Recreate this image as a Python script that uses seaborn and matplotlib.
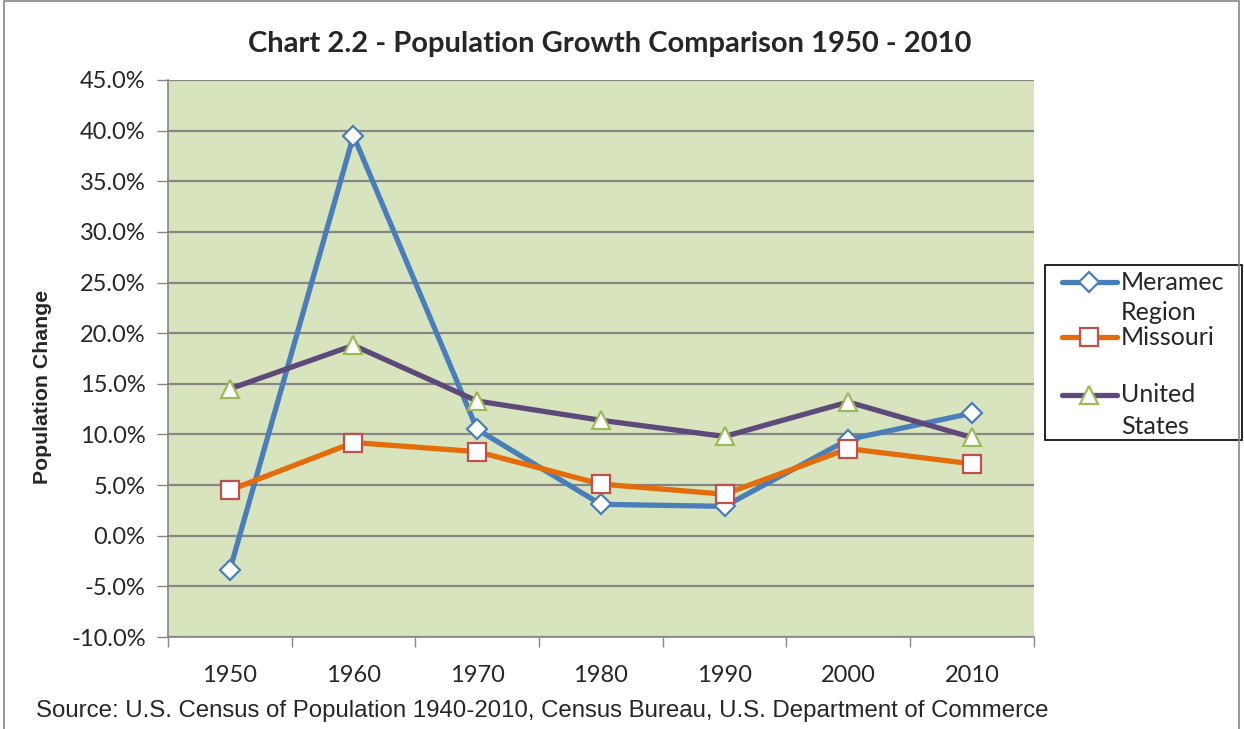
import matplotlib
matplotlib.use("Agg")
import matplotlib.pyplot as plt
import seaborn as sns
import numpy as np
import pandas as pd
from matplotlib.lines import Line2D
from matplotlib.patches import Rectangle
from matplotlib.ticker import PercentFormatter

sns.set_theme(style="white")
plt.rcParams['font.family'] = ['Lato', 'DejaVu Sans']
plt.rcParams['axes.unicode_minus'] = False

# Data (percent change per decade)
years = ["1950", "1960", "1970", "1980", "1990", "2000", "2010"]
meramec = [-3.4, 39.5, 10.5, 3.1, 2.9, 9.5, 12.1]
missouri = [4.5, 9.2, 8.3, 5.1, 4.1, 8.6, 7.1]
united_states = [14.5, 18.8, 13.3, 11.4, 9.8, 13.2, 9.7]

series_names = ["Meramec\nRegion", "Missouri", "United\nStates"]
series_values = [meramec, missouri, united_states]
line_colors = ["#4A7EBB", "#E46C0A", "#5F497A"]
edge_colors = ["#4A7EBB", "#C0504D", "#9BBB59"]
marker_shapes = ["D", "s", "^"]
marker_sizes = [10, 13, 13]

W, H = 1244, 729
fig = plt.figure(figsize=(W / 100, H / 100), dpi=100)
ax = fig.add_axes([0.135, 0.1262, 0.696, 0.7641])
ax.set_facecolor("#D7E4BD")

xpos = np.arange(len(years))
for name, vals, lc, ec, mk, ms in zip(series_names, series_values, line_colors,
                                       edge_colors, marker_shapes, marker_sizes):
    df = pd.DataFrame({"x": xpos, "y": vals})
    sns.lineplot(data=df, x="x", y="y", ax=ax, color=lc, linewidth=3.8,
                 marker=mk, markersize=ms, markerfacecolor="white",
                 markeredgecolor=ec, markeredgewidth=1.6, zorder=3)

ax.set_xlim(-0.5, len(years) - 0.5)
ax.set_ylim(-10, 45)
ax.set_yticks(np.arange(-10, 46, 5))
ax.yaxis.set_major_formatter(PercentFormatter(decimals=1))
ax.set_xticks(xpos)
ax.set_xticklabels(years)
ax.set_xticks(np.arange(-0.5, len(years), 1), minor=True)
ax.tick_params(axis="x", which="major", length=0, pad=20, labelsize=17)
ax.tick_params(axis="x", which="minor", length=7, width=1, color="#868686",
               direction="out", bottom=True)
ax.tick_params(axis="y", length=8, width=1, color="#868686", direction="out",
               left=True, pad=8, labelsize=17)
ax.grid(axis="y", color="#868686", linewidth=1.6)
ax.grid(axis="x", visible=False)
ax.set_axisbelow(True)
for side in ["top", "right"]:
    ax.spines[side].set_visible(False)
for side in ["left", "bottom"]:
    ax.spines[side].set_color("#868686")
    ax.spines[side].set_linewidth(1.2)
ax.set_xlabel("")
ax.set_ylabel("")

fig.text(0.49, 1 - 44 / H, "Chart 2.2 - Population Growth Comparison 1950 - 2010",
         ha="center", va="center", fontsize=21, fontweight="bold")
fig.text(43 / W, 1 - 387 / H, "Population Change", rotation=90, ha="center",
         va="center", fontsize=15.3, fontweight="bold",
         family=["Liberation Sans", "DejaVu Sans"])
fig.text(36 / W, 1 - 711 / H,
         "Source: U.S. Census of Population 1940-2010, Census Bureau, U.S. Department of Commerce",
         ha="left", va="center", fontsize=17.3, family=["Liberation Sans", "DejaVu Sans"])

# legend drawn by hand to follow the original's odd line layout
fig.patches.append(Rectangle((1045 / W, 1 - 440 / H), 197 / W, 175 / H,
                             transform=fig.transFigure, fill=False,
                             edgecolor="black", linewidth=1.2))
handle_y = [282, 337, 395]
label_lines = [["Meramec", "Region"], ["Missouri"], ["United", "States"]]
for hy, lines, lc, ec, mk, ms in zip(handle_y, label_lines, line_colors,
                                     edge_colors, marker_shapes, marker_sizes):
    fy = 1 - hy / H
    fig.lines.append(Line2D([1062 / W, 1117 / W], [fy, fy], transform=fig.transFigure,
                            color=lc, linewidth=3.8, solid_capstyle="round"))
    fig.lines.append(Line2D([1089 / W], [fy], transform=fig.transFigure,
                            marker=mk, markersize=ms, markerfacecolor="white",
                            markeredgecolor=ec, markeredgewidth=1.6, linestyle="none"))
    for k, line in enumerate(lines):
        fig.text(1121 / W, 1 - (hy + 31 * k) / H, line, ha="left", va="center",
                 fontsize=18)

fig.patches.append(Rectangle((0.003, -0.01), 0.993, 1.008, transform=fig.transFigure,
                             fill=False, edgecolor="#868686", linewidth=1.2))

fig.savefig("out.png", dpi=100)
